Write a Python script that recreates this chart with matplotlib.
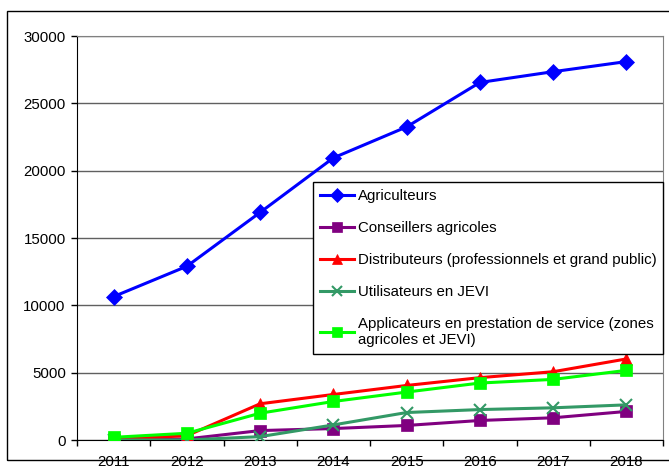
import matplotlib.pyplot as plt
from matplotlib.patches import Rectangle

plt.rcParams['font.family'] = ['Liberation Sans', 'DejaVu Sans']

years = ['2011', '2012', '2013', '2014', '2015', '2016', '2017', '2018']
agriculteurs = [10650, 12900, 16900, 20950, 23250, 26550, 27350, 28100]
conseillers = [0, 80, 700, 850, 1080, 1450, 1650, 2120]
distributeurs = [50, 320, 2690, 3380, 4050, 4630, 5070, 6020]
utilisateurs_jevi = [0, 0, 250, 1120, 2040, 2260, 2390, 2610]
applicateurs = [200, 500, 1990, 2860, 3560, 4230, 4500, 5170]

series = [
    ('Agriculteurs', agriculteurs, '#0000FF', 'D', 8),
    ('Conseillers agricoles', conseillers, '#800080', 's', 8),
    ('Distributeurs (professionnels et grand public)', distributeurs, '#FF0000', '^', 8),
    ('Utilisateurs en JEVI', utilisateurs_jevi, '#339966', 'x', 8),
    ('Applicateurs en prestation de service (zones\nagricoles et JEVI)', applicateurs, '#00FF00', 's', 8),
]

fs = 10.8

fig = plt.figure(figsize=(6.69, 4.73), dpi=100)
ax = fig.add_axes([77 / 669, 33 / 473, 586 / 669, 404 / 473])

x = range(len(years))
for label, vals, color, marker, ms in series:
    ax.plot(x, vals, color=color, marker=marker, markersize=ms, linewidth=2.2,
            markeredgewidth=1.5 if marker == 'x' else 0.5, markeredgecolor=color,
            label=label, zorder=3)

ax.set_xlim(-0.5, len(years) - 0.5)
ax.set_ylim(0, 30000)
ax.set_yticks(range(0, 30001, 5000))
ax.set_xticks(list(x))
ax.set_xticklabels(years)
ax.set_xticks([i - 0.5 for i in range(len(years) + 1)], minor=True)
ax.tick_params(axis='x', which='major', length=0, pad=11, labelsize=fs)
ax.tick_params(axis='x', which='minor', length=4.5, width=1, direction='out')
ax.tick_params(axis='y', length=4.5, width=1, direction='out', labelsize=fs, pad=3.6)

ax.yaxis.grid(True, color='#606060', linewidth=1)
ax.set_axisbelow(True)
for side in ['top', 'right']:
    ax.spines[side].set_color('#808080')
for side in ['left', 'bottom']:
    ax.spines[side].set_color('black')

leg = ax.legend(loc='upper left', bbox_to_anchor=(313 / 669, 1 - 182 / 473),
                bbox_transform=fig.transFigure, fontsize=fs, frameon=True,
                fancybox=False, framealpha=1, edgecolor='black',
                handlelength=2.25, handletextpad=0.27, labelspacing=1.2,
                borderpad=0.45, borderaxespad=0)
leg.get_frame().set_linewidth(1)
for h in leg.legend_handles:
    h.set_markersize(7)

# outer chart frame
fig.patches.append(Rectangle((7 / 669, 1 - 460 / 473), 700 / 669, 449 / 473,
                             transform=fig.transFigure, fill=False,
                             edgecolor='black', linewidth=1))

fig.savefig('out.png', dpi=100)
